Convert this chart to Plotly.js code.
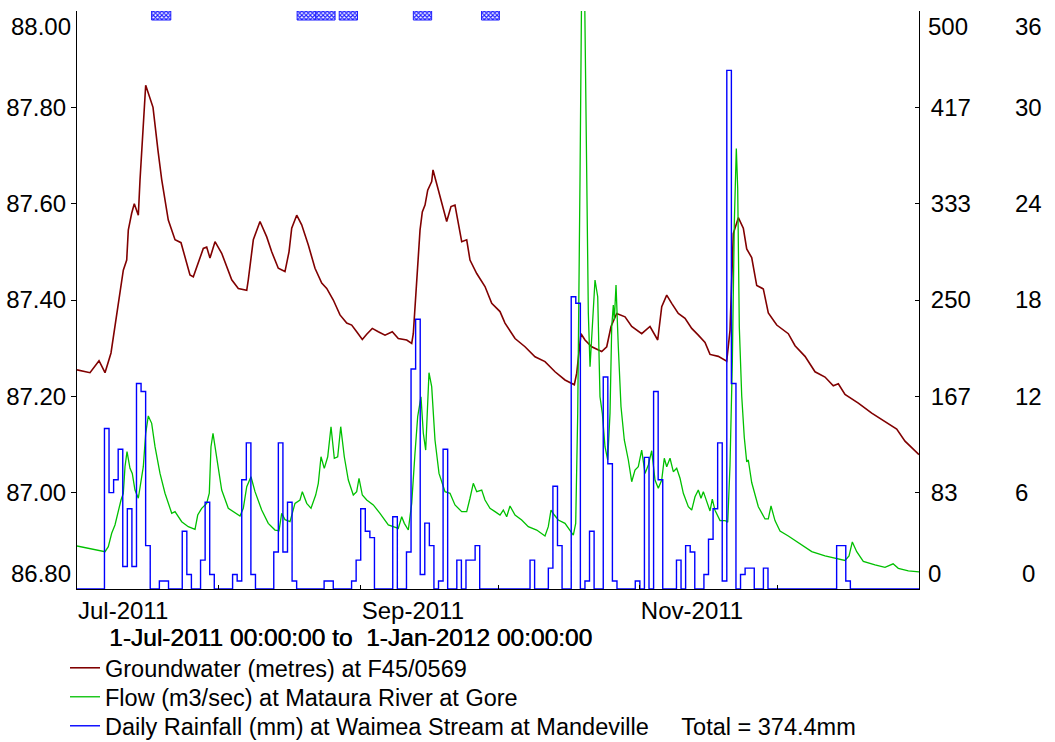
<!DOCTYPE html>
<html>
<head>
<meta charset="utf-8">
<script src="https://cdn.plot.ly/plotly-3.0.1.min.js"></script>
<style>html,body{margin:0;padding:0;background:#fff;}#chart{width:1055px;height:742px;}</style>
</head>
<body>
<div id="chart"></div>
<script>
// ---------------- DATA ----------------
// days since 1-Jul-2011 00:00
const gwDay = [0,2.84,4.81,6.12,7.43,8.46,9.40,10.12,10.86,11.21,11.95,12.52,13.40,13.77,15.01,16.61,17.70,18.51,19.95,21.42,22.73,24.69,25.42,27.60,28.34,29.06,30.16,31.62,33.81,35.25,37.09,37.43,38.53,39.99,41.46,42.55,43.99,45.45,46.33,46.92,48.01,49.10,50.55,52.01,53.48,54.57,56.01,57.47,58.94,60.03,61.12,62.35,63.31,64.53,65.84,67.31,68.90,70.21,72.05,73.14,73.49,74.24,74.96,75.46,76.05,76.64,77.51,77.80,79.33,80.79,81.73,82.60,84.07,85.16,85.88,87.35,89.16,90.63,92.44,93.53,95.72,97.90,100.09,102.27,104.46,106.64,108.68,109.20,110.14,111.01,112.48,114.66,115.76,116.70,117.94,119.76,121.22,123.40,125.22,126.16,126.90,127.78,128.87,129.96,131.40,132.87,134.33,135.77,137.24,138.33,140.14,141.98,142.70,143.42,144.52,145.61,146.35,147.44,148.54,149.98,151.07,152.91,155.44,156.91,159.09,161.28,163.46,165.27,166.37,167.83,170.74,173.67,176.57,179.13,180.94,184];
const gwLevel = [87.255,87.249,87.274,87.249,87.29,87.358,87.414,87.462,87.483,87.545,87.58,87.60,87.576,87.649,87.846,87.80,87.71,87.65,87.566,87.525,87.519,87.452,87.448,87.507,87.51,87.487,87.521,87.497,87.442,87.424,87.42,87.442,87.525,87.563,87.531,87.50,87.466,87.459,87.50,87.549,87.576,87.556,87.514,87.466,87.435,87.424,87.40,87.369,87.352,87.348,87.334,87.318,87.329,87.341,87.334,87.327,87.334,87.32,87.317,87.31,87.33,87.442,87.545,87.583,87.597,87.628,87.646,87.67,87.618,87.563,87.594,87.597,87.521,87.525,87.483,87.455,87.428,87.393,87.376,87.352,87.32,87.303,87.282,87.272,87.251,87.234,87.224,87.248,87.33,87.317,87.303,87.293,87.303,87.345,87.372,87.365,87.345,87.33,87.345,87.33,87.317,87.386,87.41,87.393,87.372,87.362,87.341,87.327,87.312,87.287,87.283,87.273,87.337,87.538,87.571,87.549,87.506,87.488,87.43,87.423,87.373,87.348,87.33,87.305,87.283,87.251,87.24,87.222,87.226,87.204,87.186,87.165,87.147,87.132,87.107,87.079];

const flowDay = [0,6.12,6.84,7.58,8.30,8.89,9.62,10.12,10.49,10.93,11.58,12.08,12.67,13.40,13.99,14.49,15.01,15.58,16.32,17.05,18.14,19.23,20.70,21.42,22.88,24.32,25.79,26.38,27.25,28.34,28.91,29.28,29.72,30.53,31.62,33.06,34.53,35.62,36.34,37.09,38.02,38.90,40.36,41.80,43.27,44.14,44.73,45.45,46.55,47.64,48.73,49.24,50.20,51.14,52.16,52.73,53.32,54.04,54.79,55.51,56.23,56.97,57.63,58.41,59.29,60.38,61.12,61.63,62.35,63.31,64.75,66.21,68.03,69.49,70.21,70.96,71.53,72.40,73.14,73.86,74.45,75.17,75.68,76.20,76.92,77.51,78.23,79.11,80.42,81.51,82.60,84.07,85.16,85.88,86.60,87.35,88.44,89.16,90.25,91.35,92.44,93.16,93.90,94.62,95.72,97.18,98.62,100.46,102.27,102.99,103.58,104.31,105.18,106.64,107.74,108.46,108.98,109.42,109.92,110.36,110.80,111.39,111.74,112.11,112.61,113.20,113.79,114.29,114.80,115.38,115.97,116.48,116.85,117.20,117.42,117.79,118.29,118.88,119.60,120.48,121.22,121.94,122.66,123.40,124.13,124.85,125.59,126.31,127.03,127.78,128.34,128.87,129.59,130.31,131.05,131.78,132.50,133.59,134.33,135.05,135.77,136.36,136.87,137.61,138.33,138.83,139.42,140.52,141.61,142.20,142.70,143.21,143.64,144.08,144.38,144.73,145.26,145.82,146.35,146.70,147.44,148.89,150.35,151.07,151.66,152.53,153.63,155.44,157.63,160.56,163.46,166.37,167.83,168.71,169.43,170.39,171.83,174.39,176.57,178.34,179.48,181.67,184];
const flowRate = [37.2,32.3,36.6,48.2,55.4,65.5,77,82.8,105.8,118.8,104.4,100,85.6,78.5,94.3,105.8,134.7,149.7,143.3,123.1,100,82.8,65.5,66.9,58.2,53.9,51.6,64,69.8,74.1,82.8,123.1,134.7,114.4,85.6,69.8,65.5,63.1,69.8,88.5,97.1,84.2,68.3,56.8,51,50.4,65.5,60,58.2,74.1,77,84.2,74.1,69.8,81.3,91.4,114.4,104.4,114.4,140.4,113.1,114.4,140.4,114.4,94.3,81.3,84.2,95.8,81.3,77,72.7,65.5,55.4,53.4,52.5,62.5,56.8,51,74.1,117.4,149.1,166.3,134.7,120.2,187.1,175,128.9,100,84.2,82.8,72.7,66.9,66.9,78.5,91.4,84.2,85.6,77,69.8,66.9,64,68.3,62.5,71.8,64,59.7,53.9,51,45.8,53.9,68.3,64,59.7,56.8,51,46.7,56.8,152,353.8,560,560,353.8,238.5,192.3,232.7,267.3,252.8,166.3,152,123.1,111.6,152,226.9,245.7,232.7,263,209.6,157.7,128.9,111.6,92.8,102.9,105.8,120.2,100,107.3,119.6,94.3,87.1,94.3,113.1,105.8,113.1,101.5,104.4,95.8,82.8,71.2,68.3,79.8,85.6,78.5,84.2,75.5,67.5,77.8,68.2,59.2,59.2,57.7,107.1,196.9,316.6,381,346.5,226.8,167,131,110,111.6,92.1,71.2,60.6,60.6,71.8,59.2,50.2,45.8,39.8,32.3,28.6,26.2,24.7,28.6,40.7,32.3,23.9,20.8,18.8,21.8,17.9,15.7,14.9];

// daily rainfall (mm), one value per day from 1-Jul-2011 to 31-Dec-2011
const rainDaily = [
 0,0,0,0,0,0,10.0,6.0,6.8,8.7,1.4,5.0,1.4,12.8,12.3,2.7,0,0,0.5,0.5,
 0,0,0,3.6,0.9,0,0,1.8,5.4,0.9,0,0,0,0,0.9,0.5,6.8,9.1,0.9,0,
 0,0,0,2.3,9.1,2.3,5.4,0.5,0,0,0,0,0,0,0.5,0.5,0,0,0,0,
 0.5,1.8,5.0,3.6,3.2,0,0,0,0,4.5,0,0,2.3,13.7,16.8,0.9,4.1,2.7,0,0.5,
 8.7,0,0,1.8,0,1.8,1.8,2.7,0,0,0,0,0,0,0,0,0,0,0,1.8,
 0,0,0,1.3,6.4,2.7,0,0,18.2,17.8,0,0.5,3.6,0,0,13.2,7.8,0.5,0,0,
 0,0,0.5,0,8.2,0,12.3,6.8,0,0,0,1.8,0,2.7,2.3,0,0,0.9,3.1,5.0,
 9.1,0.5,32.3,12.8,0,0.9,1.3,1.3,0,0,1.3,0,0,0,0,0,0,0,0,0,
 0,0,0,0,0,0,2.7,2.7,0.5,0,0,0,0,0,0,0,0,0,0,0,
 0,0,0,0
];

// comment / gap markers along the top edge (days since 1-Jul-2011)
const commentStart = [16.3, 48.1, 52.2, 57.3, 73.5, 88.4];
const commentEnd   = [20.5, 52.2, 56.4, 61.3, 77.5, 92.3];

const monthTicks = ['2011-07-01','2011-08-01','2011-09-01','2011-10-01','2011-11-01','2011-12-01'];
const monthLabels = ['Jul-2011','','Sep-2011','','Nov-2011',''];
const gwTicks = [87.0, 87.2, 87.4, 87.6, 87.8];
const gwTickText = ['87.00','87.20','87.40','87.60','87.80'];
const flowTicks = [83.333, 166.667, 250, 333.333, 416.667];
const flowTickText = ['83','167','250','333','417'];
const rainTicks = [6, 12, 18, 24, 30];
const rainTickText = ['6','12','18','24','30'];

const rangeText = '1-Jul-2011 00:00:00 to\u00a0\u00a01-Jan-2012 00:00:00';
const gwName = 'Groundwater (metres) at F45/0569';
const flowName = 'Flow (m3/sec) at Mataura River at Gore';
const rainName = 'Daily Rainfall (mm) at Waimea Stream at Mandeville\u00a0\u00a0\u00a0\u00a0\u00a0Total = 374.4mm';

// ---------------- helpers ----------------
const T0 = Date.UTC(2011, 6, 1);
const DAY = 86400000;
function dayToDate(d){ return new Date(T0 + d*DAY).toISOString().slice(0,19).replace('T',' '); }

const rainX = rainDaily.map((v,i)=>dayToDate(i)).concat([dayToDate(rainDaily.length)]);
const rainY = rainDaily.concat([rainDaily[rainDaily.length-1]]);

const FONT = 'Liberation Sans, Arial, sans-serif';
const LEGFONT = {family:FONT, size:23.5, color:'#000'};

const traces = [
  {x: gwDay.map(dayToDate), y: gwLevel, type:'scatter', mode:'lines', name: gwName, legend:'legend',
   line:{color:'#800000', width:1.6}, xaxis:'x', yaxis:'y'},
  {x: flowDay.map(dayToDate), y: flowRate, type:'scatter', mode:'lines', name: flowName, legend:'legend2',
   line:{color:'#00c000', width:1.3}, xaxis:'x', yaxis:'y2'},
  {x: rainX, y: rainY, type:'scatter', mode:'lines', name: rainName, legend:'legend3',
   line:{color:'#0000ff', width:1.4, shape:'hv'}, xaxis:'x', yaxis:'y3'},
  {x: commentStart.map((s,i)=>dayToDate((s+commentEnd[i])/2)),
   width: commentStart.map((s,i)=>(commentEnd[i]-s)*DAY),
   y: commentStart.map(()=>0.0156), base: 0.9844,
   type:'bar', showlegend:false, xaxis:'x', yaxis:'y4',
   marker:{color:'#ffffff', line:{color:'#2020ff', width:1},
     pattern:{shape:'x', fgcolor:'#2020ff', bgcolor:'#ffffff', size:3, solidity:0.6}}}
];

const XR = 842/968;
function legendAt(yPx){
  return {x:(65-77)/968, y:(589-yPx)/578, xanchor:'left', yanchor:'middle', orientation:'v',
    bgcolor:'rgba(0,0,0,0)', borderwidth:0, font:LEGFONT, itemwidth:30, tracegroupgap:0};
}
const layout = {
  width:1055, height:742,
  margin:{l:77, r:10, t:11, b:153, autoexpand:false},
  paper_bgcolor:'#ffffff', plot_bgcolor:'#ffffff',
  showlegend:true, hovermode:false, bargap:0,
  font:{family:FONT, size:24, color:'#000'},
  xaxis:{type:'date', domain:[0, XR], range:['2011-07-01','2012-01-01'], automargin:false,
    tickvals: monthTicks, ticktext: monthLabels, ticklabelposition:'outside right',
    ticks:'inside', ticklen:4, tickcolor:'#000', showline:true, linecolor:'#000', linewidth:1,
    mirror:false, showgrid:false, zeroline:false, tickfont:{family:FONT,size:24,color:'#000'},
    ticklabelstandoff:0},
  xaxis2:{type:'date', overlaying:'x', side:'top', anchor:'y', domain:[0, XR], range:['2011-07-01','2012-01-01'],
    tickvals: monthTicks, showticklabels:false, ticks:'inside', ticklen:4, tickcolor:'#333', automargin:false,
    showline:true, linecolor:'#808080', linewidth:1.2, showgrid:false, zeroline:false},
  yaxis:{range:[86.8, 88.0], tickvals: gwTicks, ticktext: gwTickText, ticks:'outside', ticklen:5, automargin:false,
    tickcolor:'#000', showline:true, linecolor:'#000', linewidth:1, showgrid:false, zeroline:false,
    tickfont:{family:FONT,size:24,color:'#000'}},
  yaxis2:{range:[0,500], overlaying:'y', side:'right', anchor:'x', tickvals: flowTicks, ticktext: flowTickText, automargin:false,
    ticks:'inside', ticklen:4, tickcolor:'#000', showline:true, linecolor:'#000', linewidth:1,
    showgrid:false, zeroline:false, tickfont:{family:FONT,size:24,color:'#000'}, ticklabelstandoff:6},
  yaxis3:{range:[0,36], overlaying:'y', side:'right', anchor:'free', position:0.968, automargin:false,
    tickvals: rainTicks, ticktext: rainTickText, ticks:'', showline:false, showgrid:false, zeroline:false,
    tickfont:{family:FONT,size:24,color:'#000'}},
  yaxis4:{range:[0,1], overlaying:'y', visible:false, fixedrange:true},
  legend: legendAt(668),
  legend2: legendAt(697),
  legend3: legendAt(726),
  annotations:[
    {text:'88.00', xref:'paper', yref:'paper', x:0, y:1, xanchor:'right', yanchor:'top', xshift:-4, showarrow:false, font:{family:FONT,size:24,color:'#000'}},
    {text:'86.80', xref:'paper', yref:'paper', x:0, y:0, xanchor:'right', yanchor:'bottom', xshift:-4, showarrow:false, font:{family:FONT,size:24,color:'#000'}},
    {text:'500', xref:'paper', yref:'paper', x:XR, y:1, xanchor:'left', yanchor:'top', xshift:7, showarrow:false, font:{family:FONT,size:24,color:'#000'}},
    {text:'0', xref:'paper', yref:'paper', x:XR, y:0, xanchor:'left', yanchor:'bottom', xshift:7, showarrow:false, font:{family:FONT,size:24,color:'#000'}},
    {text:'36', xref:'paper', yref:'paper', x:(1028.5-77)/968, y:1, xanchor:'center', yanchor:'top', showarrow:false, font:{family:FONT,size:24,color:'#000'}},
    {text:'0', xref:'paper', yref:'paper', x:(1028.5-77)/968, y:0, xanchor:'center', yanchor:'bottom', showarrow:false, font:{family:FONT,size:24,color:'#000'}},
    {text: rangeText, xref:'paper', yref:'paper', x:(350-77)/968, y:(589-637)/578, xanchor:'center', yanchor:'middle', showarrow:false,
     font:{family:FONT,size:24.5,color:'#000', shadow:'0.5px 0px 0px #000'}}
  ]
};

Plotly.newPlot('chart', traces, layout, {staticPlot:true, displayModeBar:false});
</script>
</body>
</html>
